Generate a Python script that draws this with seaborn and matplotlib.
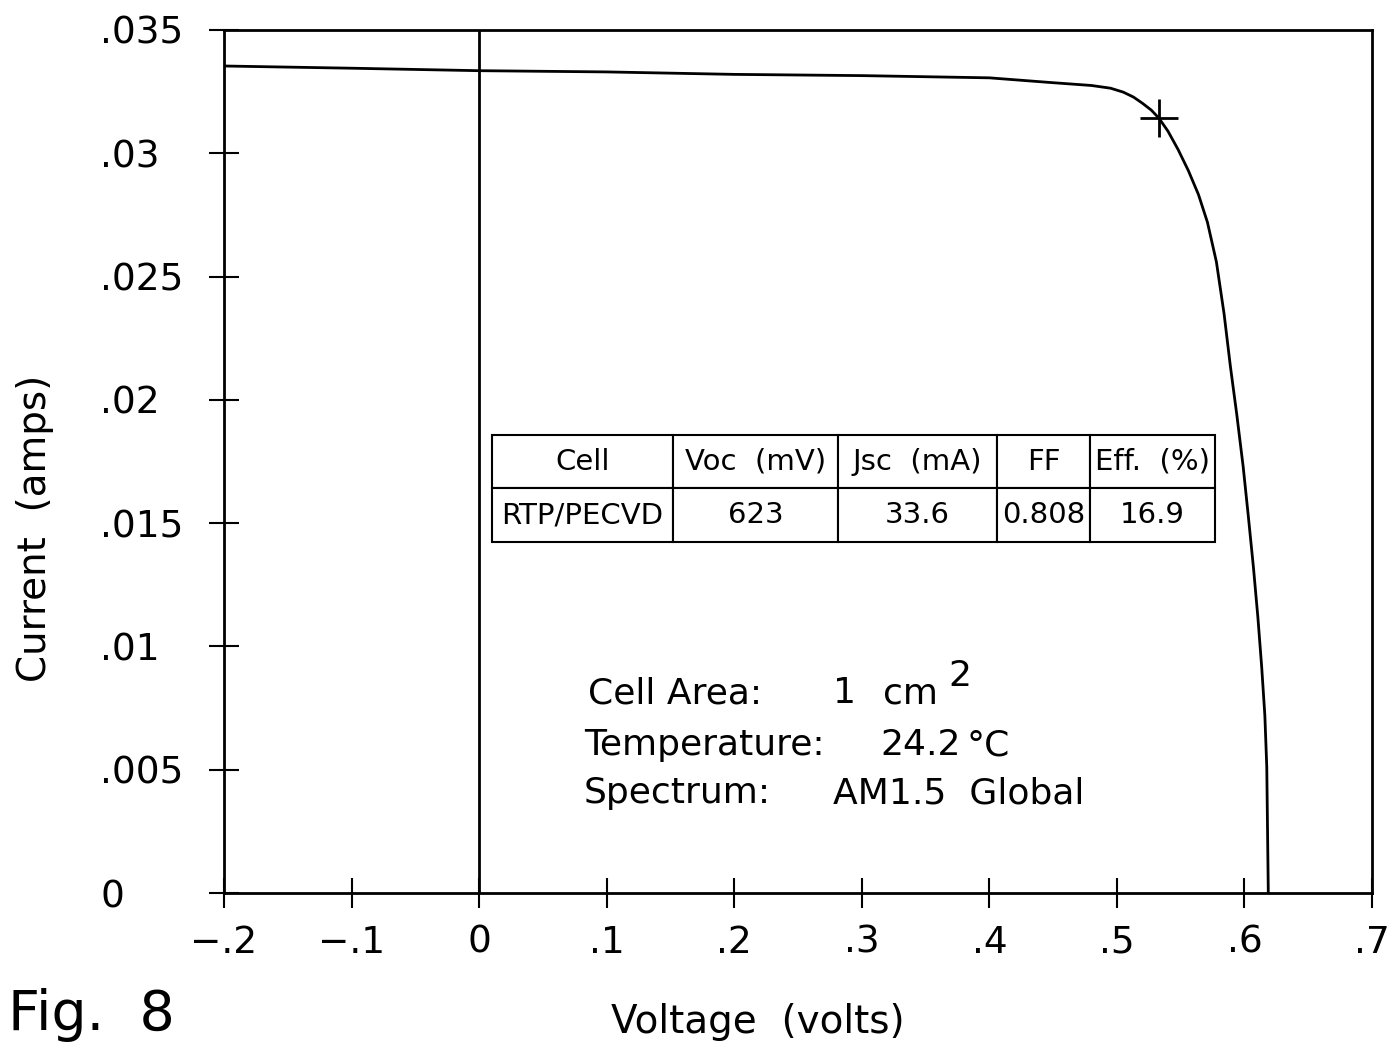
import pandas as pd
import seaborn as sns
import matplotlib.pyplot as plt

# I-V curve
voltage = [-0.2, -0.1, 0.0, 0.1, 0.2, 0.3, 0.4, 0.448, 0.48, 0.495, 0.505, 0.513, 0.52,
           0.527, 0.533, 0.540, 0.548, 0.556, 0.564, 0.571, 0.578, 0.584, 0.589, 0.594,
           0.599, 0.603, 0.607, 0.6105, 0.6135, 0.616, 0.6175, 0.6187]
current = [0.03354, 0.03345, 0.03335, 0.0333, 0.0332, 0.03315, 0.03306, 0.03287, 0.03275,
           0.03264, 0.03248, 0.03228, 0.03203, 0.03175, 0.03142, 0.0309, 0.03015, 0.0293,
           0.02832, 0.0272, 0.0256, 0.0235, 0.02135, 0.0194, 0.01729, 0.0153, 0.01323,
           0.0112, 0.00918, 0.0072, 0.00512, 0.0]
mpp_v = [0.533]
mpp_i = [0.03142]

x_ticks = [-0.2, -0.1, 0.0, 0.1, 0.2, 0.3, 0.4, 0.5, 0.6, 0.7]
x_tick_labels = ['\u2212.2', '\u2212.1', '0', '.1', '.2', '.3', '.4', '.5', '.6', '.7']
y_ticks = [0, 0.005, 0.01, 0.015, 0.02, 0.025, 0.03, 0.035]
y_tick_labels = ['0', '.005', '.01', '.015', '.02', '.025', '.03', '.035']

table_cols = ['Cell', 'Voc  (mV)', 'Jsc  (mA)', 'FF', 'Eff.  (%)']
table_row = ['RTP/PECVD', '623', '33.6', '0.808', '16.9']
col_px = [181, 165, 159, 93, 125]

sns.set_style('ticks')
plt.rcParams['font.family'] = ['DejaVu Sans']
plt.rcParams['text.color'] = 'black'
plt.rcParams['xtick.color'] = 'black'
plt.rcParams['ytick.color'] = 'black'
plt.rcParams['axes.labelcolor'] = 'black'

W, H = 1395, 1046
fig = plt.figure(figsize=(W / 100, H / 100), dpi=100)
ax = fig.add_axes([224 / W, 1 - 893 / H, (1372 - 224) / W, (893 - 30) / H])


def px(x, y):
    return x / W, 1 - y / H


df = pd.DataFrame({'Voltage': voltage, 'Current': current})
sns.lineplot(data=df, x='Voltage', y='Current', sort=False, estimator=None,
             color='black', lw=2, ax=ax)
ax.axvline(0, color='black', lw=2)
sns.scatterplot(x=mpp_v, y=mpp_i, marker='+', s=750, linewidth=2, color='black', ax=ax)

ax.set_xlim(-0.2, 0.7)
ax.set_ylim(0, 0.035)
ax.set_xticks(x_ticks, x_tick_labels)
ax.set_yticks(y_ticks, y_tick_labels)
ax.tick_params(direction='inout', length=22, width=1.5, labelsize=27, color='black',
               labelcolor='black')
ax.tick_params(axis='x', pad=12)
ax.tick_params(axis='y', pad=78)
for lab in ax.get_yticklabels():
    lab.set_horizontalalignment('left')
ax.set_xlabel('')
ax.set_ylabel('')
for sp in ax.spines.values():
    sp.set_linewidth(2)
    sp.set_color('black')

# parameter table
tbl = ax.table(cellText=[table_row], colLabels=table_cols, cellLoc='center',
               colWidths=[c / sum(col_px) for c in col_px],
               bbox=[(492 - 224) / 1148, (893 - 542) / 863, (1215 - 492) / 1148, 107 / 863])
tbl.auto_set_font_size(False)
tbl.set_fontsize(21)
for cell in tbl.get_celld().values():
    cell.set_linewidth(1.5)
    cell.set_edgecolor('black')
    cell.PAD = 0.02

# measurement notes
note = dict(fontsize=26, va='baseline')
fig.text(*px(588, 703), 'Cell Area:', **note)
fig.text(*px(833, 703), '1', **note)
fig.text(*px(883, 703), 'cm', **note)
fig.text(*px(948, 686), '2', **note)
fig.text(*px(584, 755), 'Temperature:', **note)
fig.text(*px(880, 755), '24.2', **note)
fig.text(*px(966, 755), '\u00b0C', **note)
fig.text(*px(584, 803), 'Spectrum:', **note)
fig.text(*px(833, 803), 'AM1.5  Global', **note)

fig.text(*px(35, 528), 'Current  (amps)', fontsize=28, rotation=90, ha='center', va='center')
fig.text(*px(758, 1022), 'Voltage  (volts)', fontsize=28, ha='center', va='center')
fig.text(*px(8, 1030), 'Fig.  8', fontsize=40, va='baseline')

fig.savefig('out.png', dpi=100)
